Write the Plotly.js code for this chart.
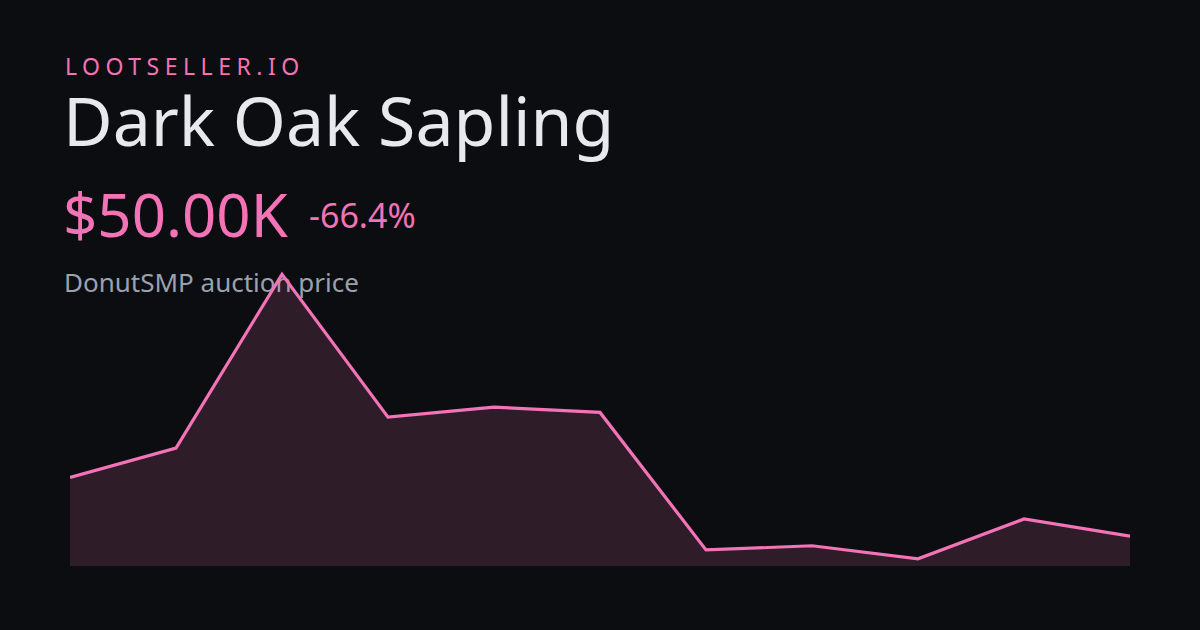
<!DOCTYPE html>
<html>
<head>
<meta charset="utf-8">
<script src="https://cdn.plot.ly/plotly-3.0.1.min.js"></script>
<style>
  html, body { margin: 0; padding: 0; background: #0c0d11; }
  #chart { width: 1200px; height: 630px; }
</style>
</head>
<body>
<div id="chart"></div>
<script>
// ---- data ----
const points = ['P1','P2','P3','P4','P5','P6','P7','P8','P9','P10','P11'];
const prices = [148800, 198000, 490000, 250000, 267000, 258000, 27000, 34000, 12000, 79000, 50000];
const brand = 'LOOTSELLER.IO';
const itemName = 'Dark Oak Sapling';
const priceLabel = '$50.00K';
const changeLabel = '-66.4%';
const subtitle = 'DonutSMP auction price';

// ---- layout geometry ----
const W = 1200, H = 630;
const M = {l: 70, r: 70, t: 250, b: 64};
const plotH = H - M.t - M.b;
const plotW = W - M.l - M.r;
const yMax = plotH * 1680;
const px = x => (x - M.l) / plotW;
const py = y => (H - M.b - y) / plotH;

const PINK = '#f472b6';
const FONT = 'Noto Sans, Open Sans, sans-serif';

const trace = {
  x: points.map((_, i) => i),
  y: prices,
  type: 'scatter',
  mode: 'lines',
  line: {color: PINK, width: 3.2, shape: 'linear'},
  fill: 'tozeroy',
  fillcolor: 'rgba(244,114,182,0.15)',
  hoverinfo: 'skip'
};

function ann(text, x, y, size, color) {
  return {
    text: text, xref: 'paper', yref: 'paper', x: px(x), y: py(y),
    xanchor: 'left', yanchor: 'middle', showarrow: false,
    font: {family: FONT, size: size, color: color}, borderpad: 0
  };
}

const layout = {
  width: W, height: H,
  margin: M,
  paper_bgcolor: '#0c0d11',
  plot_bgcolor: '#0c0d11',
  showlegend: false,
  xaxis: {visible: false, range: [0, points.length - 1], fixedrange: true},
  yaxis: {visible: false, range: [0, yMax], fixedrange: true},
  annotations: [
    ann(brand, 64, 65.5, 23, PINK),
    ann(itemName, 62, 119, 68, '#e8e9ee'),
    ann(priceLabel, 62, 213.5, 60, PINK),
    ann(changeLabel, 308, 215, 34, PINK),
    ann(subtitle, 63, 281.5, 26, '#9aa1b0')
  ]
};

Plotly.newPlot('chart', [trace], layout, {displayModeBar: false, staticPlot: true}).then(gd => {
  const anns = gd.querySelectorAll('.infolayer .annotation');
  if (anns.length) {
    const t = anns[0].querySelector('text');
    if (t) {
      const left0 = t.getBBox().x;
      t.style.letterSpacing = '5.5px';
      const left1 = t.getBBox().x;
      t.setAttribute('transform', 'translate(' + (left0 - left1) + ',0)');
    }
  }
  // place text under the line layer
  const main = gd.querySelector('.main-svg');
  const below = main && main.querySelector('.layer-below');
  if (below) anns.forEach(a => below.appendChild(a));
});
</script>
</body>
</html>
